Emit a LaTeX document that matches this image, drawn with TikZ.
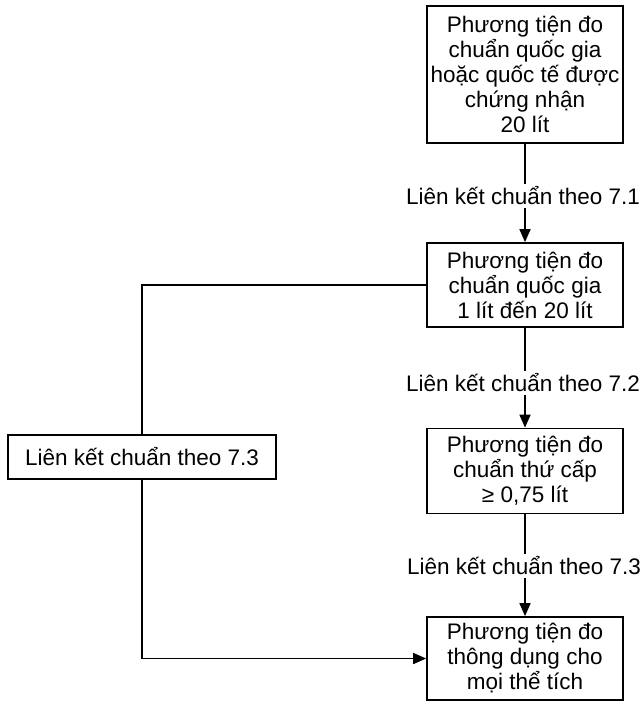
\documentclass[tikz,border=0pt]{standalone}
\usepackage{fontspec}
\setmainfont{Liberation Sans}
\usetikzlibrary{arrows.meta, positioning}

\tikzset{
  devbox/.style={draw, line width=1.7pt, align=center, minimum width=196pt,
                 inner sep=2pt, font=\fontsize{22.5}{25}\selectfont},
  linklabel/.style={inner sep=3pt, font=\fontsize{22.5}{25}\selectfont},
  link/.style={line width=1.7pt},
  flow/.style={line width=1.7pt, -{Triangle[width=11pt,length=13pt]}}
}

\begin{document}
\begin{tikzpicture}[x=1pt, y=1pt]
  \useasboundingbox (0,0) rectangle (644,-701);

  % Right column: measuring standards
  \node[devbox, minimum height=137pt] (certstd) at (525,-74.5)
    {Phương tiện đo\\chuẩn quốc gia\\hoặc quốc tế được\\chứng nhận\\20 lít};
  \node[devbox, minimum height=84pt] (natstd) at (525,-285)
    {Phương tiện đo\\chuẩn quốc gia\\1 lít đến 20 lít};
  \node[devbox, minimum height=85pt] (secstd) at (525,-471)
    {Phương tiện đo\\chuẩn thứ cấp\\≥ 0,75 lít};
  \node[devbox, minimum height=83pt] (workstd) at (525,-658.5)
    {Phương tiện đo\\thông dụng cho\\mọi thể tích};

  % Link labels
  \node[linklabel] (linkA) at (523,-196) {Liên kết chuẩn theo 7.1};
  \node[linklabel] (linkB) at (523,-383) {Liên kết chuẩn theo 7.2};
  \node[linklabel] (linkC) at (524,-566) {Liên kết chuẩn theo 7.3};
  \node[devbox, minimum width=268pt, minimum height=44pt] (linkD)
    at (142,-457) {Liên kết chuẩn theo 7.3};

  % Connectors
  \draw[link] (certstd.south) -- (certstd.south |- linkA.north);
  \draw[flow] (certstd.south |- linkA.south) -- (natstd.north);
  \draw[link] (natstd.south) -- (natstd.south |- linkB.north);
  \draw[flow] (natstd.south |- linkB.south) -- (secstd.north);
  \draw[link] (secstd.south) -- (secstd.south |- linkC.north);
  \draw[flow] (secstd.south |- linkC.south) -- (workstd.north);
  \draw[link] (natstd.west) -| (linkD.north);
  \draw[flow] (linkD.south) |- (workstd.west);

\end{tikzpicture}
\end{document}
